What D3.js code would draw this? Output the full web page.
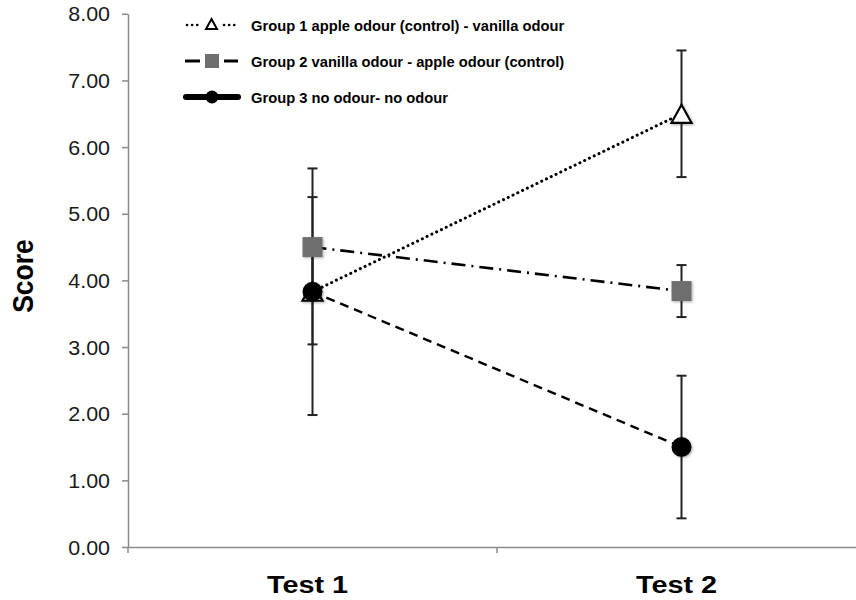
<!DOCTYPE html>
<html>
<head>
<meta charset="utf-8">
<script src="https://cdn.jsdelivr.net/npm/d3@7"></script>
<style>
  html, body { margin: 0; padding: 0; background: #fff; }
  svg { display: block; font-family: "Liberation Sans", Arial, sans-serif; }
</style>
</head>
<body>
<svg id="chart" width="856" height="600"></svg>
<script>
// ---- data ----
const categories = ["Test 1", "Test 2"];
const seriesNames = [
  "Group 1 apple odour (control) - vanilla odour",
  "Group 2 vanilla odour - apple odour (control)",
  "Group 3 no odour- no odour"
];
const group1Means = [3.83, 6.50];
const group1Errors = [1.85, 0.95];
const group2Means = [4.50, 3.84];
const group2Errors = [0.75, 0.39];
const group3Means = [3.83, 1.50];
const group3Errors = [0.79, 1.07];
const yTickValues = [0, 1, 2, 3, 4, 5, 6, 7, 8];
const yTickLabels = ["0.00", "1.00", "2.00", "3.00", "4.00", "5.00", "6.00", "7.00", "8.00"];

const series = [
  { name: seriesNames[0], means: group1Means, errors: group1Errors, marker: "triangle", dash: "0.1 5.2", width: 3, cap: "round" },
  { name: seriesNames[1], means: group2Means, errors: group2Errors, marker: "square", dash: "14 6 2 6", width: 2.6, cap: "butt" },
  { name: seriesNames[2], means: group3Means, errors: group3Errors, marker: "circle", dash: "9 6", width: 2.4, cap: "butt" }
];

const svg = d3.select("#chart");
const defs = svg.append("defs");
const f = defs.append("filter").attr("id", "shadow").attr("x", "-50%").attr("y", "-50%").attr("width", "200%").attr("height", "200%");
f.append("feDropShadow").attr("dx", 1.2).attr("dy", 1.2).attr("stdDeviation", 1.3).attr("flood-color", "#000").attr("flood-opacity", 0.3);

const x = d3.scaleBand().domain(categories).range([128, 866]).paddingInner(0).paddingOuter(0);
const y = d3.scaleLinear().domain([0, 8]).range([547, 13.8]);
const cx = c => x(c) + x.bandwidth() / 2;

const axisColor = "#8a8a8a";

// y axis
const yAxisG = svg.append("g").attr("transform", "translate(128,0)")
  .call(d3.axisLeft(y).tickValues(yTickValues).tickFormat((d, i) => yTickLabels[i]).tickSize(6).tickSizeOuter(0));
yAxisG.select(".domain").attr("stroke", axisColor).attr("stroke-width", 1.5);
yAxisG.selectAll(".tick line").attr("stroke", axisColor).attr("stroke-width", 1.5);
yAxisG.selectAll(".tick text").each(function () {
  const t = d3.select(this);
  t.attr("x", null).attr("dy", null)
    .attr("text-anchor", "end")
    .attr("dominant-baseline", "central")
    .attr("transform", "translate(-18,0) scale(1.1,1)")
    .attr("fill", "#1a1a1a")
    .attr("font-size", 19.5)
    .attr("font-family", "Liberation Sans, Arial, sans-serif");
});

// x axis
const xAxisG = svg.append("g").attr("transform", "translate(0,547)")
  .call(d3.axisBottom(x).tickSize(0).tickSizeOuter(0).tickFormat(""));
xAxisG.select(".domain").attr("stroke", axisColor).attr("stroke-width", 1.5);
// boundary ticks between categories
const boundaries = [x.range()[0], x(categories[1]), x.range()[1]];
svg.append("g").selectAll("line").data(boundaries).join("line")
  .attr("x1", d => d).attr("x2", d => d)
  .attr("y1", 547).attr("y2", 553)
  .attr("stroke", axisColor).attr("stroke-width", 1.5);

// category labels
svg.append("g").selectAll("text").data(categories).join("text")
  .attr("transform", d => `translate(${cx(d) - 5},593) scale(1.2,1)`)
  .attr("text-anchor", "middle")
  .attr("font-size", 24).attr("font-weight", "bold").attr("fill", "#000")
  .text(d => d);

// y label
svg.append("text")
  .attr("transform", "translate(33,276) rotate(-90) scale(1,1.08)")
  .attr("text-anchor", "middle")
  .attr("font-size", 26.5).attr("font-weight", "bold").attr("fill", "#000")
  .text("Score");

// error bars
const ebG = svg.append("g");
series.forEach(s => {
  categories.forEach((c, i) => {
    const top = y(s.means[i] + s.errors[i]);
    const bot = y(s.means[i] - s.errors[i]);
    const xc = cx(c);
    ebG.append("line").attr("x1", xc).attr("x2", xc).attr("y1", top).attr("y2", bot)
      .attr("stroke", "#222").attr("stroke-width", 2);
    [top, bot].forEach(yy => ebG.append("line").attr("x1", xc - 5).attr("x2", xc + 5).attr("y1", yy).attr("y2", yy)
      .attr("stroke", "#222").attr("stroke-width", 2));
  });
});

// lines
const line = d3.line().x((d, i) => cx(categories[i])).y(d => y(d));
series.forEach(s => {
  svg.append("path").datum(s.means)
    .attr("d", line)
    .attr("fill", "none")
    .attr("stroke", "#000")
    .attr("stroke-width", s.width)
    .attr("stroke-dasharray", s.dash)
    .attr("stroke-linecap", s.cap);
});

// markers
function drawMarker(g, type, xx, yy, size) {
  if (type === "triangle") {
    const w = size, h = size * 0.9;
    g.append("path")
      .attr("d", `M${xx},${yy - h / 2} L${xx + w / 2},${yy + h / 2} L${xx - w / 2},${yy + h / 2} Z`)
      .attr("fill", "#fff").attr("stroke", "#000").attr("stroke-width", 2.2)
      .attr("stroke-linejoin", "miter");
  } else if (type === "square") {
    g.append("rect").attr("x", xx - size / 2).attr("y", yy - size / 2)
      .attr("width", size).attr("height", size).attr("fill", "#6e6e6e");
  } else {
    g.append("circle").attr("cx", xx).attr("cy", yy).attr("r", size / 2).attr("fill", "#000");
  }
}
const mG = svg.append("g").attr("filter", "url(#shadow)");
series.forEach(s => {
  categories.forEach((c, i) => drawMarker(mG, s.marker, cx(c), y(s.means[i]), 20));
});

// legend
const legendRows = [25, 61, 97];
const lg = svg.append("g");
series.forEach((s, i) => {
  const yy = legendRows[i];
  if (s.marker === "triangle") {
    lg.append("line").attr("x1", 187).attr("x2", 200).attr("y1", yy).attr("y2", yy)
      .attr("stroke", "#000").attr("stroke-width", 2.6).attr("stroke-dasharray", "0.1 5").attr("stroke-linecap", "round");
    lg.append("line").attr("x1", 224).attr("x2", 237).attr("y1", yy).attr("y2", yy)
      .attr("stroke", "#000").attr("stroke-width", 2.6).attr("stroke-dasharray", "0.1 5").attr("stroke-linecap", "round");
    const w = 11, h = 10;
    lg.append("path").attr("d", `M211.5,${yy - h / 2 - 1} L${211.5 + w / 2},${yy + h / 2 - 1} L${211.5 - w / 2},${yy + h / 2 - 1} Z`)
      .attr("fill", "#fff").attr("stroke", "#000").attr("stroke-width", 2);
  } else if (s.marker === "square") {
    lg.append("line").attr("x1", 185).attr("x2", 200).attr("y1", yy).attr("y2", yy).attr("stroke", "#000").attr("stroke-width", 3);
    lg.append("line").attr("x1", 224).attr("x2", 238).attr("y1", yy).attr("y2", yy).attr("stroke", "#000").attr("stroke-width", 3);
    lg.append("rect").attr("x", 205).attr("y", yy - 7).attr("width", 14).attr("height", 14).attr("fill", "#6e6e6e");
  } else {
    lg.append("line").attr("x1", 186).attr("x2", 238).attr("y1", yy).attr("y2", yy)
      .attr("stroke", "#000").attr("stroke-width", 6).attr("stroke-linecap", "round");
    lg.append("circle").attr("cx", 212).attr("cy", yy).attr("r", 6.5).attr("fill", "#000");
  }
  lg.append("text")
    .attr("transform", `translate(251,${yy}) scale(0.95,1)`)
    .attr("dominant-baseline", "central")
    .attr("font-size", 15.5).attr("font-weight", "bold").attr("fill", "#000")
    .text(s.name);
});
</script>
</body>
</html>
